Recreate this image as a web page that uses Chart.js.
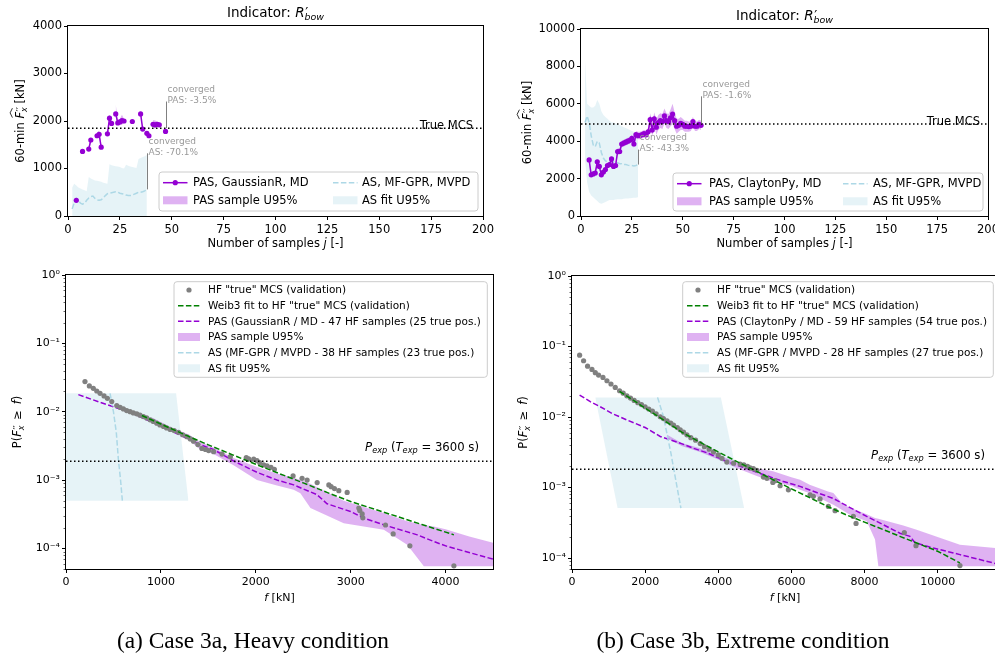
<!DOCTYPE html>
<html>
<head>
<meta charset="utf-8">
<script src="https://cdn.jsdelivr.net/npm/chart.js@4.4.1/dist/chart.umd.min.js"></script>
<style>
  html, body { margin: 0; padding: 0; background: #fff; overflow: hidden; }
  #wrap { position: relative; width: 995px; height: 661px; overflow: hidden; }
  canvas { position: absolute; left: 0; top: 0; }
  .cap { position: absolute; top: 627px; width: 340px; text-align: center;
         font: 23.4px "Liberation Serif", "Times New Roman", serif; color: #000; white-space: nowrap; }
</style>
</head>
<body>
<div id="wrap">
  <canvas id="tl" width="1010" height="661"></canvas>
  <canvas id="tr" width="1010" height="661"></canvas>
  <canvas id="bl" width="1010" height="661"></canvas>
  <canvas id="br" width="1010" height="661"></canvas>
  <div class="cap" style="left:83px">(a) Case 3a, Heavy condition</div>
  <div class="cap" style="left:573px">(b) Case 3b, Extreme condition</div>
</div>
<script>
// ---- (a) top: 60-min estimate vs number of samples ----
const aJ = [4,5,6,7,8,9,10,11,12,13,14,15,16,17,18,19,20,21,22,23,24,25,26,27,28,29,30,31,32,33,34,35,36,37,38,39,40,41,42,43,44,45,46,47];
const aPas = [330,null,null,1360,null,null,1410,1600,null,null,1690,1720,1450,null,null,1730,2060,1950,null,2150,1960,1980,2010,2000,null,null,null,1990,null,null,null,2150,1830,null,1740,1690,null,1930,1920,1930,1920,null,null,1780];
const aPasHi = [360,null,null,1400,null,null,1450,1650,null,null,1760,1800,1490,null,null,1780,2120,2010,null,2350,2020,2040,2130,2040,null,null,null,2020,null,null,null,2200,1870,null,1780,1720,null,2020,2010,1990,1960,null,null,1810];
const aPasLo = [300,null,null,1330,null,null,1380,1560,null,null,1640,1660,1420,null,null,1690,2000,1900,null,2080,1910,1930,1920,1960,null,null,null,1960,null,null,null,2100,1790,null,1700,1660,null,1850,1840,1870,1890,null,null,1750];
const aAsJ = [2,3,4,5,6,7,8,9,10,11,12,13,14,15,16,17,18,19,20,21,22,23,24,25,26,27,28,29,30,31,32,33,34,35,36,37,38];
const aAs = [150,280,370,330,270,250,270,330,380,410,420,370,340,330,340,380,430,470,480,490,500,510,500,480,470,460,440,430,430,440,460,480,500,500,510,530,560];
const aAsHi = [600,680,640,600,580,560,540,520,820,790,770,750,740,730,720,700,690,680,1090,1070,1060,1050,1040,1030,1010,1000,1080,1060,1040,1030,1020,1010,1200,1220,1240,1260,1290];
const aTrueMcs = 1850;
const aNotes = [
  { x: 47, from: 1850, to: 2410, lines: ['converged', 'PAS: -3.5%'] },
  { x: 38, from: 560, to: 1320, lines: ['converged', 'AS: -70.1%'] }
];

// ---- (b) top ----
const bJ = [4,5,6,7,8,9,10,11,12,13,14,15,16,17,18,19,20,21,22,23,24,25,26,27,28,29,30,31,32,33,34,35,36,37,38,39,40,41,42,43,44,45,46,47,48,49,50,51,52,53,54,55,56,57,58,59];
const bPas = [3000,2200,2250,2300,2900,2650,2200,2350,2480,2700,2750,3050,2650,2700,3450,3450,3850,3900,3950,4000,4050,4150,3850,4350,4300,4300,4350,4400,4350,4500,5150,4600,5200,4750,5000,5100,5050,5350,5100,5050,5250,5450,5100,4800,4850,4950,4900,4800,4800,4780,4800,5050,4800,4800,4900,4850];
const bPasHi = [3100,2300,2350,2400,3000,2750,2300,2450,2600,2820,2870,3180,2780,2830,3620,3620,4030,4080,4130,4180,4230,4340,4050,4550,4500,4500,4550,4600,4560,4720,5500,4950,5550,5150,5400,5500,5450,5750,5500,5450,5700,6000,5550,5200,5200,5300,5200,5100,5100,5050,5050,5300,5050,5050,5150,5100];
const bPasLo = [2900,2100,2150,2200,2800,2550,2100,2250,2360,2580,2630,2920,2520,2570,3280,3280,3670,3720,3770,3820,3870,3960,3650,4150,4100,4100,4150,4200,4140,4280,4800,4250,4850,4350,4600,4700,4650,4950,4700,4650,4800,4900,4650,4400,4500,4600,4600,4500,4500,4500,4550,4800,4550,4550,4650,4600];
const bAsJ = [2,3,4,5,6,7,8,9,10,11,12,13,14,15,16,17,18,19,20,21,22,23,24,25,26,27,28];
const bAs = [5000,5350,5000,4300,3800,3700,4000,3900,3400,3100,2950,2900,2850,2900,2900,2850,2850,2800,2800,2750,2750,2720,2700,2700,2680,2700,2750];
const bAsHi = [8300,6000,5900,5800,5800,5900,6200,6000,5600,5400,5300,5200,5100,5000,5000,4950,4900,4850,4800,4750,4700,4650,4600,4550,4500,4450,4400];
const bAsLo = [3000,1800,1300,1100,1000,900,800,700,650,700,750,800,850,850,850,880,900,900,900,920,930,940,950,960,970,980,1000];
const bTrueMcs = 4920;
const bNotes = [
  { x: 59, from: 4950, to: 6400, lines: ['converged', 'PAS: -1.6%'] },
  { x: 28, from: 2750, to: 3550, lines: ['converged', 'AS: -43.3%'] }
];

const jTicks = [0,25,50,75,100,125,150,175,200];
const aYTicks = [0,1000,2000,3000,4000];
const bYTicks = [0,2000,4000,6000,8000,10000];

// ---- (a) bottom: exceedance probability ----
const aHfF = [200,246,288,324,359,401,436,482,535,570,605,640,676,710,746,780,816,850,887,920,957,990,1028,1060,1098,1140,1186,1230,1274,1310,1344,1390,1432,1470,1503,1556,1644,1732,1900,1925,1978,2013,2041,2083,2118,2160,2196,2393,2488,2541,2647,2770,2794,2829,2875,2963,3086,3096,3121,3128,3367,3448,3624,4088];
const aHfP = [0.0276,0.0238,0.022,0.0201,0.0186,0.017,0.0157,0.0141,0.0123,0.0116,0.011,0.0104,0.01,0.0096,0.0093,0.0089,0.0085,0.0081,0.0076,0.0072,0.0068,0.0064,0.0061,0.0058,0.0055,0.0053,0.005,0.0046,0.0043,0.004,0.0037,0.0033,0.0029,0.0028,0.0027,0.0026,0.0024,0.0022,0.00213,0.00204,0.00202,0.00193,0.0018,0.00167,0.00161,0.00154,0.00144,0.00115,0.00106,0.001,0.00092,0.00085,0.0008,0.00075,0.0007,0.00066,0.00039,0.00036,0.00032,0.00028,0.00022,0.000163,0.000109,0.0000557];
const aWeibF = [800,1000,1250,1500,1750,2000,2250,2500,2750,3000,3250,3500,3750,4088];
const aWeibP = [0.0088,0.0066,0.00462,0.00327,0.00236,0.0017,0.00124,0.00091,0.00066,0.000485,0.000375,0.00029,0.000224,0.000158];
const aPasF = [130,359,700,1028,1414,1555,1766,2012,2223,2399,2646,2751,2998,3139,3350,3702,3877,4018,4500];
const aPasP = [0.0178,0.0137,0.0095,0.0059,0.0033,0.0028,0.0019,0.0013,0.001,0.00085,0.00061,0.00045,0.000347,0.000277,0.000221,0.000158,0.000126,0.000107,0.0000697];
const aBandF = [900,1100,1300,1414,1555,1766,2012,2223,2399,2470,2576,2927,3349,3596,3771,3877,4000,4250,4510];
const aBandHi = [0.0083,0.006,0.0046,0.0036,0.003,0.0021,0.00155,0.00125,0.00108,0.001,0.00088,0.0005,0.00033,0.00025,0.00022,0.00021,0.00019,0.00015,0.00012];
const aBandLo = [0.0075,0.0053,0.0038,0.0028,0.0024,0.00165,0.001,0.00083,0.00072,0.00064,0.00039,0.000234,0.000187,0.000113,0.000055,0.000055,0.000055,0.000055,0.000055];
const aAsCdfF = [464,500,530,552,575,594];
const aAsCdfP = [0.0186,0.01,0.005,0.002,0.001,0.0005];
const aAsTopF = [0,1160,1290];
const aAsTopP = [0.0186,0.0186,0.0005];
const aAsBotF = [0,1290];
const aAsBotP = [0.0005,0.0005];
const aPexp = 0.00189;

// ---- (b) bottom ----
const bHfF = [208,317,426,546,637,727,847,956,1066,1183,1301,1400,1500,1600,1700,1800,1900,2000,2100,2200,2300,2413,2500,2600,2700,2777,2880,2960,3050,3142,3250,3380,3506,3620,3750,3870,4000,4100,4235,4420,4598,4700,4800,4872,4960,5055,5235,5330,5492,5550,5691,5918,6511,6600,6784,7011,7194,7694,7768,9088,9407,10610];
const bHfP = [0.0755,0.0628,0.0527,0.0473,0.0425,0.0394,0.0365,0.0327,0.0294,0.0263,0.0236,0.0218,0.02,0.0186,0.0172,0.016,0.015,0.014,0.013,0.0121,0.0111,0.0101,0.0095,0.0088,0.0082,0.0077,0.0071,0.0066,0.0061,0.0056,0.0051,0.0047,0.0042,0.0038,0.0035,0.0032,0.0029,0.0026,0.0023,0.00222,0.00215,0.0021,0.002,0.0019,0.00185,0.00176,0.00141,0.00135,0.00118,0.00125,0.00106,0.00093,0.00079,0.00075,0.00069,0.00054,0.00047,0.00039,0.00031,0.00023,0.00015,0.0000782];
const bWeibF = [1300,2000,2500,3000,3500,4000,4500,5000,5500,6000,6500,7000,7500,8000,8500,9000,9500,10000,10610];
const bWeibP = [0.0232,0.0134,0.0091,0.0061,0.0044,0.0032,0.00235,0.00175,0.00129,0.00096,0.00072,0.000535,0.00041,0.000323,0.000255,0.0002,0.000158,0.000125,0.0000853];
const bPasF = [208,500,773,1100,1500,2000,2413,3050,3323,3700,4235,4872,5327,5783,6237,6692,7148,7603,8058,8514,8969,9242,9380,9880,10610,11650];
const bPasP = [0.0205,0.0165,0.014,0.0112,0.0091,0.0071,0.0053,0.0041,0.0036,0.0031,0.00234,0.00178,0.00147,0.00122,0.00104,0.00085,0.0007,0.00052,0.00039,0.000297,0.000225,0.000203,0.000165,0.000139,0.000112,0.000082];
const bBandF = [2600,3000,3500,4000,4500,5000,5500,6000,6238,6500,7000,7148,7421,7600,8060,8287,8378,9060,9426,10610,11650];
const bBandHi = [0.0056,0.0043,0.0036,0.0029,0.0023,0.0019,0.0017,0.0014,0.00129,0.0011,0.00088,0.00084,0.00057,0.00052,0.00042,0.00037,0.00036,0.00029,0.000253,0.000155,0.000138];
const bBandLo = [0.005,0.0039,0.0032,0.0025,0.0019,0.0015,0.0012,0.00105,0.00093,0.00083,0.00062,0.00057,0.00047,0.00041,0.000334,0.000183,0.0000766,0.0000766,0.0000766,0.0000766,0.0000766];
const bAsCdfF = [2340,2503,2705,2869,2978];
const bAsCdfP = [0.019,0.0101,0.00307,0.00104,0.000512];
const bAsTopF = [637,4071,4708];
const bAsTopP = [0.019,0.019,0.000512];
const bAsBotF = [637,1247,4708];
const bAsBotP = [0.019,0.000512,0.000512];
const bPexp = 0.00182;

const aFTicks = [0,1000,2000,3000,4000];
const bFTicks = [0,2000,4000,6000,8000,10000];
const decades = [1e-4,1e-3,1e-2,1e-1,1];

// ---- styling ----
const FONT = '"DejaVu Sans", sans-serif';
const PURPLE = '#9400d3';
const PURPLE_FILL = 'rgba(148, 0, 211, 0.3)';
const LBLUE = '#add8e6';
const LBLUE_FILL = 'rgba(173, 216, 230, 0.3)';
const GREEN = '#008000';
const GRAY = '#808080';
const DASH = [5.5, 2.4];
const DOTS = [1.5, 2.5];
const CW = 1010, CH = 661, YW = 60, XH = 30;

const pts = (xs, ys) => xs.map((x, i) => ({ x, y: ys[i] }));
const sup = { '0': '\u2070', '1': '\u00b9', '2': '\u00b2', '3': '\u00b3', '4': '\u2074', '5': '\u2075', '-': '\u207b' };
const logLabel = v => '10' + String(Math.round(Math.log10(v))).split('').map(c => sup[c]).join('');

// text with italic / sub / sup parts, baseline at y
function drawRich(ctx, parts, x, y, size, align) {
  const sizeOf = p => size * (p.sz || (p.s ? 0.7 : 1));
  const fontOf = p => (p.i ? 'italic ' : '') + sizeOf(p) + 'px ' + FONT;
  const widths = parts.map(p => { ctx.font = fontOf(p); return ctx.measureText(p.t).width; });
  let cx = 0, held = 0;
  const xs = parts.map((p, k) => {
    const at = cx;
    if (p.stack) held = widths[k];
    else { cx += Math.max(widths[k], held); held = 0; }
    return at;
  });
  const total = cx;
  const x0 = align === 'center' ? x - total / 2 : align === 'right' ? x - total : x;
  ctx.textAlign = 'left';
  parts.forEach((p, k) => {
    ctx.font = fontOf(p);
    const dy = p.s === 'sub' ? size * 0.24 : p.s === 'sup' ? -size * 0.4 : 0;
    ctx.fillText(p.t, x0 + xs[k] + (p.dx || 0) * size, y + dy);
    if (p.hat) {
      const xa = x0 + xs[k] + 1;
      const xb = x0 + (k + p.hat + 1 < xs.length ? xs[k + p.hat + 1] : total) - 1;
      const yb = y - size * 1.02;
      ctx.save();
      ctx.strokeStyle = ctx.fillStyle; ctx.lineWidth = 0.8;
      ctx.beginPath(); ctx.moveTo(xa, yb); ctx.lineTo((xa + xb) / 2, yb - size * 0.2); ctx.lineTo(xb, yb); ctx.stroke();
      ctx.restore();
    }
  });
}

function drawLegend(ctx, L) {
  const [x0, y0, x1, y1] = L.box;
  const r = 3;
  ctx.save();
  ctx.beginPath();
  ctx.moveTo(x0 + r, y0);
  ctx.arcTo(x1, y0, x1, y1, r); ctx.arcTo(x1, y1, x0, y1, r);
  ctx.arcTo(x0, y1, x0, y0, r); ctx.arcTo(x0, y0, x1, y0, r);
  ctx.closePath();
  ctx.fillStyle = 'rgba(255,255,255,0.8)'; ctx.fill();
  ctx.strokeStyle = '#cccccc'; ctx.lineWidth = 1; ctx.stroke();
  L.items.forEach(it => {
    const col = L.cols[it.c], y = L.rows[it.r], hx = col.hx, hw = L.hw;
    if (it.kind === 'line') {
      ctx.strokeStyle = it.color; ctx.lineWidth = 1.5;
      ctx.setLineDash(it.dash || []);
      ctx.beginPath(); ctx.moveTo(hx, y); ctx.lineTo(hx + hw, y); ctx.stroke();
      ctx.setLineDash([]);
    }
    if (it.kind === 'rect') { ctx.fillStyle = it.color; ctx.fillRect(hx, y - 4, hw, 8); }
    if (it.marker) {
      ctx.fillStyle = it.color;
      ctx.beginPath(); ctx.arc(hx + hw / 2, y, 2.6, 0, Math.PI * 2); ctx.fill();
    }
    ctx.fillStyle = '#000'; ctx.font = L.size + 'px ' + FONT;
    ctx.textAlign = 'left'; ctx.textBaseline = 'middle';
    ctx.fillText(it.text, col.tx, y + 0.5);
  });
  ctx.restore();
}

const decoPlugin = {
  id: 'deco',
  afterDatasetsDraw(chart, args, o) {
    const { ctx, chartArea: a } = chart;
    const sx = chart.scales.x, sy = chart.scales.y;
    ctx.save();
    (o.notes || []).forEach(n => {
      const px = Math.round(sx.getPixelForValue(n.x)) + 0.5;
      const y0 = sy.getPixelForValue(n.from), y1 = sy.getPixelForValue(n.to);
      ctx.strokeStyle = GRAY; ctx.lineWidth = 1;
      ctx.beginPath(); ctx.moveTo(px, y0); ctx.lineTo(px, y1); ctx.stroke();
      ctx.fillStyle = '#999999'; ctx.font = '9px ' + FONT;
      ctx.textAlign = 'left'; ctx.textBaseline = 'alphabetic';
      ctx.fillText(n.lines[0], px + 1, y1 - 9.5);
      ctx.fillText(n.lines[1], px + 1, y1 + 1.5);
    });
    if (o.ref) {
      ctx.fillStyle = '#000'; ctx.textBaseline = 'alphabetic';
      drawRich(ctx, o.ref.parts, a.right - o.ref.inset, sy.getPixelForValue(o.ref.value) + o.ref.dy, o.ref.size, 'right');
    }
    if (o.minorLog) {
      ctx.strokeStyle = '#000'; ctx.lineWidth = 0.6;
      const lo = Math.floor(Math.log10(sy.min)), hi = Math.ceil(Math.log10(sy.max));
      for (let e = lo; e < hi; e++) {
        for (let k = 2; k <= 9; k++) {
          const v = k * Math.pow(10, e);
          if (v < sy.min || v > sy.max) continue;
          const py = Math.round(sy.getPixelForValue(v)) + 0.5;
          ctx.beginPath(); ctx.moveTo(a.left - 2.5, py); ctx.lineTo(a.left, py); ctx.stroke();
        }
      }
    }
    ctx.strokeStyle = '#000'; ctx.lineWidth = 1;
    ctx.strokeRect(Math.round(a.left) - 0.5, Math.round(a.top) - 0.5,
                   Math.round(a.right - a.left) + 1, Math.round(a.bottom - a.top) + 1);
    ctx.restore();
  },
  afterDraw(chart, args, o) {
    const { ctx, chartArea: a } = chart;
    ctx.save();
    ctx.fillStyle = '#000'; ctx.textBaseline = 'alphabetic';
    if (o.title) drawRich(ctx, o.title, (a.left + a.right) / 2, a.top - 9, o.titleSize, 'center');
    drawRich(ctx, o.xlabel, (a.left + a.right) / 2, a.bottom + o.xlabelDy, o.labelSize, 'center');
    ctx.save();
    ctx.translate(o.ylabelX + o.ylabelSize * 0.36, (a.top + a.bottom) / 2);
    ctx.rotate(-Math.PI / 2);
    drawRich(ctx, o.ylabel, 0, 0, o.ylabelSize, 'center');
    ctx.restore();
    if (o.legend) drawLegend(ctx, o.legend);
    ctx.restore();
  }
};

function axis(kind, min, max, ticks, size, isY, label) {
  return {
    type: kind, min, max,
    afterBuildTicks: s => { s.ticks = ticks.map(v => ({ value: v })); },
    afterFit: s => { if (isY) s.width = YW; else s.height = XH; },
    grid: { drawOnChartArea: false, drawTicks: true, tickLength: 4, tickColor: '#000', tickWidth: 1 },
    border: { display: false },
    ticks: {
      color: '#000', font: { family: FONT, size }, padding: isY ? 2 : 3,
      autoSkip: false, maxRotation: 0, minRotation: 0,
      callback: label
    }
  };
}

function makeChart(id, area, x, y, datasets, deco) {
  return new Chart(document.getElementById(id), {
    type: 'line',
    data: { datasets },
    options: {
      responsive: false, animation: false, events: [],
      layout: { padding: { left: area.l - YW, right: CW - area.r, top: area.t, bottom: CH - area.b - XH } },
      plugins: { legend: { display: false }, tooltip: { enabled: false }, deco },
      scales: { x, y }
    },
    plugins: [decoPlugin]
  });
}

const lineDs = (data, color, extra) => Object.assign({
  data, borderColor: color, borderWidth: 1.5, pointRadius: 0, fill: false, spanGaps: false
}, extra || {});

// ---- top charts ----
const titleParts = [{ t: 'Indicator: ' }, { t: 'R', i: 1 }, { t: '\u2032', sz: 1, stack: 1, dx: 0.05 }, { t: 'bow', i: 1, s: 'sub' }];
const topYLabel = [{ t: '60-min ' }, { t: 'F', i: 1, hat: 2 }, { t: '\u2032\u2032', sz: 0.85, stack: 1, dx: 0.05 }, { t: 'x', i: 1, s: 'sub' }, { t: ' [kN]' }];
const topXLabel = [{ t: 'Number of samples ' }, { t: 'j', i: 1 }, { t: ' [-]' }];

function topDatasets(J, pas, hi, lo, asJ, as, asHi, asLo, mcs) {
  const ds = [
    lineDs([{ x: jTicks[0], y: mcs }, { x: jTicks[jTicks.length - 1], y: mcs }], '#000', { borderDash: DOTS }),
    lineDs(pts(J, pas), PURPLE, { pointRadius: 2.6, pointBackgroundColor: PURPLE, pointBorderWidth: 0 }),
    lineDs(pts(J, hi), 'rgba(0,0,0,0)', { borderWidth: 0, fill: '+1', backgroundColor: PURPLE_FILL }),
    lineDs(pts(J, lo), 'rgba(0,0,0,0)', { borderWidth: 0 }),
    lineDs(pts(asJ, as), LBLUE, { borderDash: DASH })
  ];
  if (asLo) {
    ds.push(lineDs(pts(asJ, asHi), 'rgba(0,0,0,0)', { borderWidth: 0, fill: '+1', backgroundColor: LBLUE_FILL }));
    ds.push(lineDs(pts(asJ, asLo), 'rgba(0,0,0,0)', { borderWidth: 0 }));
  } else {
    ds.push(lineDs(pts(asJ, asHi), 'rgba(0,0,0,0)', { borderWidth: 0, fill: 'origin', backgroundColor: LBLUE_FILL }));
  }
  return ds;
}

function topLegend(box, cols, pasName) {
  return {
    box, rows: [box[1] + 10.7, box[1] + 28.3], cols, hw: 24.5, size: 11.5,
    items: [
      { c: 0, r: 0, kind: 'line', color: PURPLE, marker: true, text: pasName },
      { c: 0, r: 1, kind: 'rect', color: PURPLE_FILL, text: 'PAS sample U95%' },
      { c: 1, r: 0, kind: 'line', color: LBLUE, dash: DASH, text: 'AS, MF-GPR, MVPD' },
      { c: 1, r: 1, kind: 'rect', color: LBLUE_FILL, text: 'AS fit U95%' }
    ]
  };
}

makeChart('tl', { l: 68, r: 483, t: 26, b: 216 },
  axis('linear', 0, 200, jTicks, 11.5, false, v => String(v)),
  axis('linear', 0, 4000, aYTicks, 11.5, true, v => String(v)),
  topDatasets(aJ, aPas, aPasHi, aPasLo, aAsJ, aAs, aAsHi, null, aTrueMcs),
  {
    notes: aNotes, title: titleParts, titleSize: 13.5, labelSize: 11.5, ylabelSize: 11.5,
    xlabel: topXLabel, xlabelDy: 31, ylabel: topYLabel, ylabelX: 20,
    ref: { parts: [{ t: 'True MCS' }], value: aTrueMcs, inset: 10, dy: 1, size: 11.5 },
    legend: topLegend([159, 172, 478, 211], [{ hx: 163, tx: 193 }, { hx: 333, tx: 362 }], 'PAS, GaussianR, MD')
  });

makeChart('tr', { l: 581, r: 988, t: 29, b: 216 },
  axis('linear', 0, 200, jTicks, 11.5, false, v => String(v)),
  axis('linear', 0, 10000, bYTicks, 11.5, true, v => String(v)),
  topDatasets(bJ, bPas, bPasHi, bPasLo, bAsJ, bAs, bAsHi, bAsLo, bTrueMcs),
  {
    notes: bNotes, title: titleParts, titleSize: 13.5, labelSize: 11.5, ylabelSize: 11.5,
    xlabel: topXLabel, xlabelDy: 30.5, ylabel: topYLabel, ylabelX: 527,
    ref: { parts: [{ t: 'True MCS' }], value: bTrueMcs, inset: 8, dy: 1, size: 11.5 },
    legend: topLegend([673, 173, 983, 211], [{ hx: 677, tx: 709 }, { hx: 843, tx: 873 }], 'PAS, ClaytonPy, MD')
  });

// ---- bottom charts ----
const botYLabel = [{ t: 'P(' }, { t: 'F', i: 1 }, { t: '\u2032\u2032', sz: 0.85, stack: 1, dx: 0.05 }, { t: 'x', i: 1, s: 'sub' }, { t: '\u2002\u2265\u2002' }, { t: 'f', i: 1 }, { t: ')' }];
const botXLabel = [{ t: 'f', i: 1 }, { t: ' [kN]' }];
const pexpParts = [{ t: 'P', i: 1 }, { t: 'exp', i: 1, s: 'sub' }, { t: ' (' }, { t: 'T', i: 1 }, { t: 'exp', i: 1, s: 'sub' }, { t: ' = 3600 s)' }];

function botDatasets(d) {
  return [
    lineDs([{ x: d.fmin, y: d.pexp }, { x: d.fmax, y: d.pexp }], '#000', { borderDash: DOTS }),
    lineDs(pts(d.weibF, d.weibP), GREEN, { borderDash: DASH }),
    lineDs(pts(d.hfF, d.hfP), GRAY, { showLine: false, pointRadius: 2.6, pointBackgroundColor: GRAY, pointBorderWidth: 0 }),
    lineDs(pts(d.asF, d.asP), LBLUE, { borderDash: DASH }),
    lineDs(pts(d.pasF, d.pasP), PURPLE, { borderDash: DASH }),
    lineDs(pts(d.bandF, d.bandHi), 'rgba(0,0,0,0)', { borderWidth: 0, fill: '+1', backgroundColor: PURPLE_FILL }),
    lineDs(pts(d.bandF, d.bandLo), 'rgba(0,0,0,0)', { borderWidth: 0 }),
    lineDs(pts(d.asTopF, d.asTopP), 'rgba(0,0,0,0)', { borderWidth: 0, fill: '+1', backgroundColor: LBLUE_FILL }),
    lineDs(pts(d.asBotF, d.asBotP), 'rgba(0,0,0,0)', { borderWidth: 0 })
  ];
}

function botLegend(box, hx, tx, pasText, asText) {
  return {
    box, rows: [290, 305.7, 321.3, 337, 352.7, 368.3], cols: [{ hx, tx }], hw: 22, size: 10.5,
    items: [
      { c: 0, r: 0, kind: 'dot', color: GRAY, marker: true, text: 'HF "true" MCS (validation)' },
      { c: 0, r: 1, kind: 'line', color: GREEN, dash: DASH, text: 'Weib3 fit to HF "true" MCS (validation)' },
      { c: 0, r: 2, kind: 'line', color: PURPLE, dash: DASH, text: pasText },
      { c: 0, r: 3, kind: 'rect', color: PURPLE_FILL, text: 'PAS sample U95%' },
      { c: 0, r: 4, kind: 'line', color: LBLUE, dash: DASH, text: asText },
      { c: 0, r: 5, kind: 'rect', color: LBLUE_FILL, text: 'AS fit U95%' }
    ]
  };
}

makeChart('bl', { l: 66, r: 493, t: 275, b: 569 },
  axis('linear', 0, 4500, aFTicks, 11, false, v => String(v)),
  axis('logarithmic', 5e-5, 1, decades, 11, true, logLabel),
  botDatasets({
    fmin: 0, fmax: 4500, pexp: aPexp, weibF: aWeibF, weibP: aWeibP, hfF: aHfF, hfP: aHfP,
    asF: aAsCdfF, asP: aAsCdfP, pasF: aPasF, pasP: aPasP,
    bandF: aBandF, bandHi: aBandHi, bandLo: aBandLo,
    asTopF: aAsTopF, asTopP: aAsTopP, asBotF: aAsBotF, asBotP: aAsBotP
  }),
  {
    minorLog: true, labelSize: 11, ylabelSize: 11.5, xlabel: botXLabel, xlabelDy: 32, ylabel: botYLabel, ylabelX: 17,
    ref: { parts: pexpParts, value: aPexp, inset: 14, dy: -10.5, size: 11.7 },
    legend: botLegend([174, 281.7, 487.3, 377.3], 178, 208,
      'PAS (GaussianR / MD - 47 HF samples (25 true pos.)',
      'AS (MF-GPR / MVPD - 38 HF samples (23 true pos.)')
  });

makeChart('br', { l: 572, r: 998, t: 276, b: 569 },
  axis('linear', 0, 11650, bFTicks, 11, false, v => String(v)),
  axis('logarithmic', 7e-5, 1, decades, 11, true, logLabel),
  botDatasets({
    fmin: 0, fmax: 11650, pexp: bPexp, weibF: bWeibF, weibP: bWeibP, hfF: bHfF, hfP: bHfP,
    asF: bAsCdfF, asP: bAsCdfP, pasF: bPasF, pasP: bPasP,
    bandF: bBandF, bandHi: bBandHi, bandLo: bBandLo,
    asTopF: bAsTopF, asTopP: bAsTopP, asBotF: bAsBotF, asBotP: bAsBotP
  }),
  {
    minorLog: true, labelSize: 11, ylabelSize: 11.5, xlabel: botXLabel, xlabelDy: 32, ylabel: botYLabel, ylabelX: 523,
    ref: { parts: pexpParts, value: bPexp, inset: 13, dy: -10.7, size: 11.7 },
    legend: botLegend([682.7, 281.7, 993.3, 377.3], 687, 717,
      'PAS (ClaytonPy / MD - 59 HF samples (54 true pos.)',
      'AS (MF-GPR / MVPD - 28 HF samples (27 true pos.)')
  });
</script>
</body>
</html>
